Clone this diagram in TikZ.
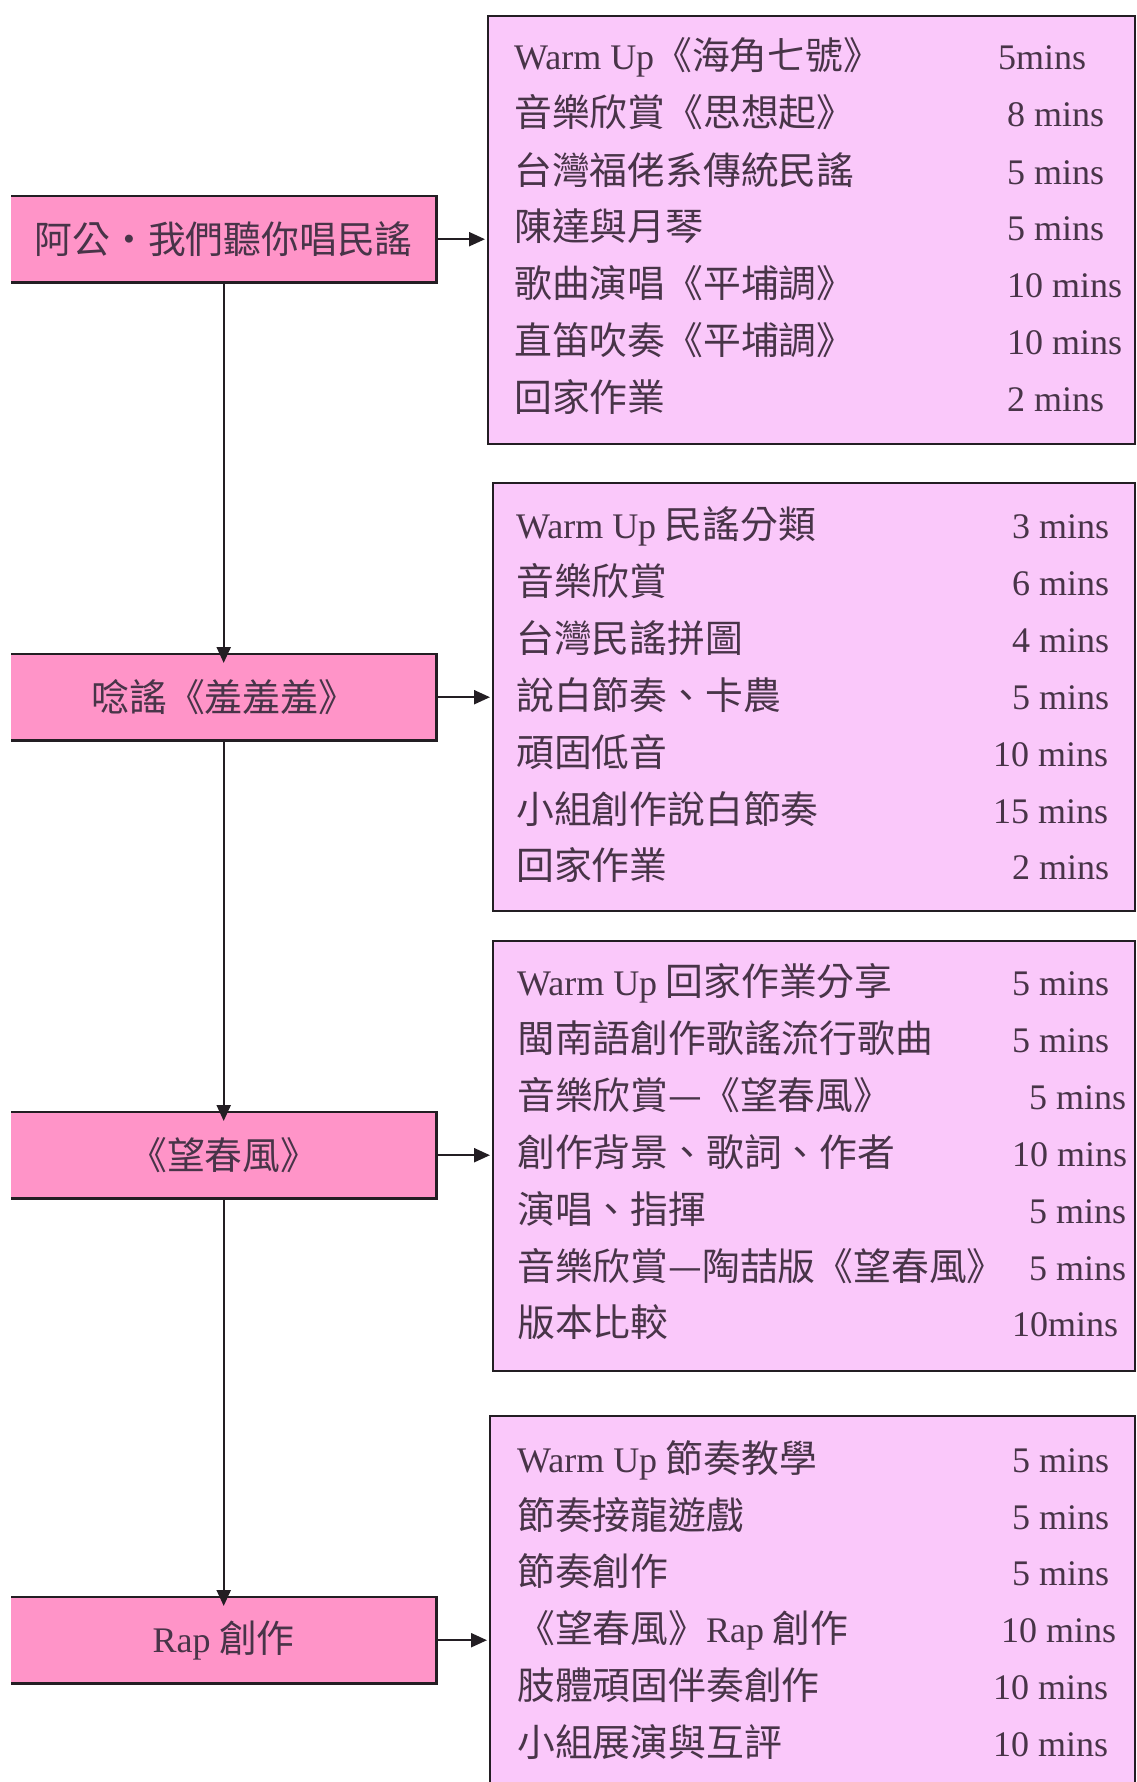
\documentclass[tikz,border=0pt]{standalone}
\usepackage{fontspec}
\setmainfont[Scale=1.05]{Noto Sans CJK TC}
\newfontfamily\tm{Liberation Serif}
\usetikzlibrary{arrows.meta}
\definecolor{lpink}{RGB}{255,148,200}
\definecolor{rpink}{RGB}{250,200,250}
\definecolor{txt}{RGB}{72,52,72}
\definecolor{edge}{RGB}{35,30,35}
\tikzset{
  topic/.style={fill=lpink,inner sep=0pt,text=txt},
  panel/.style={fill=rpink,draw=edge,line width=2.2pt,inner sep=0pt},
  item/.style={anchor=base west,inner sep=0pt,text=txt},
  tim/.style={anchor=base west,inner sep=0pt,text=txt,font=\tm\fontsize{36}{40}\selectfont},
  arr/.style={draw=edge,line width=2.2pt,-{Triangle[length=16pt,width=14pt]}},
  bord/.style={draw=edge,line width=2.2pt}
}
\begin{document}
\begin{tikzpicture}[x=1pt,y=-1pt,font=\fontsize{36}{40}\selectfont]
\useasboundingbox (0,0) rectangle (1137,1782);
\fill[white] (0,0) rectangle (1137,1782);
\begin{scope}
\clip (0,0) rectangle (1137,1782);
% right panels
\node[panel,minimum width=647pt,minimum height=428pt,anchor=north west] (p1) at (487,15) {};
\node[panel,minimum width=642pt,minimum height=428pt,anchor=north west] (p2) at (492,482) {};
\node[panel,minimum width=642pt,minimum height=430pt,anchor=north west] (p3) at (492,940) {};
\node[panel,minimum width=645pt,minimum height=400pt,anchor=north west] (p4) at (489,1415) {};
\end{scope}
% left topic boxes
\node[topic,minimum width=425pt,minimum height=86pt,anchor=north west] (b1) at (11,196) {};
\node[topic,minimum width=425pt,minimum height=86pt,anchor=north west] (b2) at (11,654) {};
\node[topic,minimum width=425pt,minimum height=86pt,anchor=north west] (b3) at (11,1112) {};
\node[topic,minimum width=425pt,minimum height=86pt,anchor=north west] (b4) at (11,1597) {};
\foreach \b in {b1,b2,b3,b4}{
  \draw[bord] (\b.north west) -| (\b.south east) -- (\b.south west);
}
\node[text=txt,inner sep=0pt] (l1) at (b1.center) {阿公・我們聽你唱民謠};
\node[text=txt,inner sep=0pt] (l2) at (b2.center) {唸謠《羞羞羞》};
\node[text=txt,inner sep=0pt] (l3) at (b3.center) {《望春風》};
\node[text=txt,inner sep=0pt] (l4) at (b4.center) {{\tm Rap} 創作};
% connectors
\draw[arr] (b1.south) -- ([yshift=-9pt]b2.north);
\draw[arr] (b2.south) -- ([yshift=-9pt]b3.north);
\draw[arr] (b3.south) -- ([yshift=-9pt]b4.north);
\draw[arr] (b1.east) -- ([xshift=-2pt]b1.east -| p1.west);
\draw[arr] (b2.east) -- ([xshift=-2pt]b2.east -| p2.west);
\draw[arr] (b3.east) -- ([xshift=-2pt]b3.east -| p3.west);
\draw[arr] (b4.east) -- ([xshift=-2pt]b4.east -| p4.west);
% panel 1
\node[item] (a1) at (514,70) {{\tm Warm Up}《海角七號》};
\node[item] (a2) at (514,127) {音樂欣賞《思想起》};
\node[item] (a3) at (514,184) {台灣福佬系傳統民謠};
\node[item] (a4) at (514,240) {陳達與月琴};
\node[item] (a5) at (514,297) {歌曲演唱《平埔調》};
\node[item] (a6) at (514,354) {直笛吹奏《平埔調》};
\node[item] (a7) at (514,411) {回家作業};
\node[tim] (at1) at (998,70) {5mins};
\node[tim] (at2) at (1007,127) {8 mins};
\node[tim] (at3) at (1007,184) {5 mins};
\node[tim] (at4) at (1007,240) {5 mins};
\node[tim] (at5) at (1007,297) {10 mins};
\node[tim] (at6) at (1007,354) {10 mins};
\node[tim] (at7) at (1007,411) {2 mins};
% panel 2
\node[item] (c1) at (516,538) {{\tm Warm Up} 民謠分類};
\node[item] (c2) at (516,595) {音樂欣賞};
\node[item] (c3) at (516,652) {台灣民謠拼圖};
\node[item] (c4) at (516,709) {說白節奏、卡農};
\node[item] (c5) at (516,766) {頑固低音};
\node[item] (c6) at (516,823) {小組創作說白節奏};
\node[item] (c7) at (516,879) {回家作業};
\node[tim] (ct1) at (1012,538) {3 mins};
\node[tim] (ct2) at (1012,595) {6 mins};
\node[tim] (ct3) at (1012,652) {4 mins};
\node[tim] (ct4) at (1012,709) {5 mins};
\node[tim] (ct5) at (993,766) {10 mins};
\node[tim] (ct6) at (993,823) {15 mins};
\node[tim] (ct7) at (1012,879) {2 mins};
% panel 3
\node[item] (d1) at (517,995) {{\tm Warm Up} 回家作業分享};
\node[item] (d2) at (517,1052) {閩南語創作歌謠流行歌曲};
\node[item] (d3) at (517,1109) {音樂欣賞—《望春風》};
\node[item] (d4) at (517,1166) {創作背景、歌詞、作者};
\node[item] (d5) at (517,1223) {演唱、指揮};
\node[item] (d6) at (517,1280) {音樂欣賞—陶喆版《望春風》};
\node[item] (d7) at (517,1336) {版本比較};
\node[tim] (dt1) at (1012,995) {5 mins};
\node[tim] (dt2) at (1012,1052) {5 mins};
\node[tim] (dt3) at (1029,1109) {5 mins};
\node[tim] (dt4) at (1012,1166) {10 mins};
\node[tim] (dt5) at (1029,1223) {5 mins};
\node[tim] (dt6) at (1029,1280) {5 mins};
\node[tim] (dt7) at (1012,1336) {10mins};
% panel 4
\node[item] (e1) at (517,1472) {{\tm Warm Up} 節奏教學};
\node[item] (e2) at (517,1529) {節奏接龍遊戲};
\node[item] (e3) at (517,1585) {節奏創作};
\node[item] (e4) at (517,1642) {《望春風》{\tm Rap} 創作};
\node[item] (e5) at (517,1699) {肢體頑固伴奏創作};
\node[item] (e6) at (517,1756) {小組展演與互評};
\node[tim] (et1) at (1012,1472) {5 mins};
\node[tim] (et2) at (1012,1529) {5 mins};
\node[tim] (et3) at (1012,1585) {5 mins};
\node[tim] (et4) at (1001,1642) {10 mins};
\node[tim] (et5) at (993,1699) {10 mins};
\node[tim] (et6) at (993,1756) {10 mins};
\end{tikzpicture}
\end{document}
